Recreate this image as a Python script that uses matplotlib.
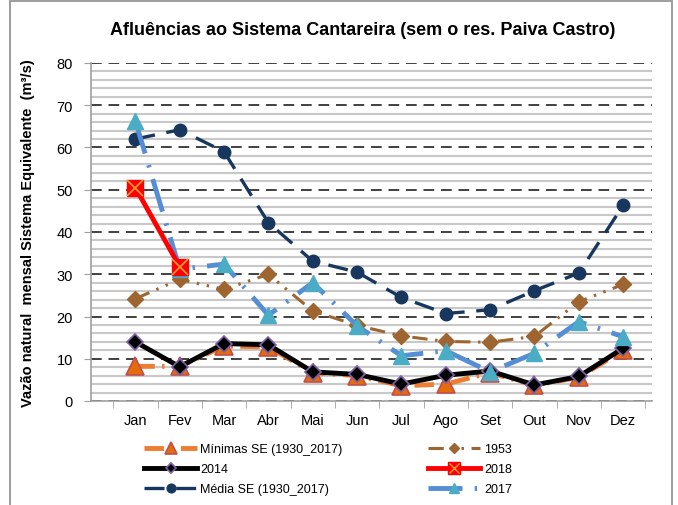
import numpy as np
import matplotlib.pyplot as plt
from matplotlib.ticker import MultipleLocator, FixedLocator
from matplotlib.lines import Line2D
from matplotlib.legend_handler import HandlerTuple
import matplotlib.patches as mpatches

# Data
months = ["Jan", "Fev", "Mar", "Abr", "Mai", "Jun",
          "Jul", "Ago", "Set", "Out", "Nov", "Dez"]

minimas = [8.2, 8.2, 13.0, 12.8, 6.7, 6.0, 3.6, 4.0, 6.7, 3.7, 5.6, 12.0]
y1953   = [24.2, 28.8, 26.4, 30.0, 21.3, 17.9, 15.4, 14.1, 13.9, 15.3, 23.5, 27.6]
y2014   = [14.0, 8.1, 13.6, 13.3, 6.9, 6.3, 4.0, 6.1, 7.1, 3.8, 5.8, 12.5]
y2018   = [50.5, 31.8]
media   = [62.0, 64.2, 59.0, 42.2, 33.1, 30.5, 24.5, 20.7, 21.6, 26.1, 30.3, 46.3]
y2017   = [66.3, 31.2, 32.4, 20.3, 28.0, 17.8, 10.7, 11.9, 6.9, 11.3, 18.8, 15.2]

plt.rcParams['font.family'] = ['Liberation Sans', 'DejaVu Sans']

fig = plt.figure(figsize=(6.78, 5.06), dpi=100)
ax = fig.add_axes([91 / 678, 104 / 506, 561 / 678, 338 / 506])

x = np.arange(len(months))

# Grid: light minor lines every 2, dashed major lines every 10
ax.yaxis.set_major_locator(MultipleLocator(10))
ax.yaxis.set_minor_locator(MultipleLocator(2))
ax.grid(which="minor", axis="y", color="#c8c8c8", linewidth=1.5, linestyle="-")
ax.grid(which="major", axis="y", color="#404040", linewidth=1.4,
        linestyle=(0, (5.5, 3.5)))
ax.set_axisbelow(True)

lw = 3.5
h_min, = ax.plot(x, minimas, color="#ED7D31", linewidth=lw,
                 linestyle=(0, (4, 1.5, 0.5, 1.5)),
                 marker="^", markersize=13, markerfacecolor="#E46C0A",
                 markeredgecolor="#C0504D", markeredgewidth=1.2,
                 label="Mínimas SE (1930_2017)", zorder=3)
h_1953, = ax.plot(x, y1953, color="#9E6530", linewidth=2.2,
                  linestyle=(0, (5, 2.5, 0.8, 2.5, 0.8, 2.5)),
                  marker="D", markersize=8, markerfacecolor="#9E6530",
                  markeredgecolor="#9E6530",
                  label="1953", zorder=3)
h_2014, = ax.plot(x, y2014, color="black", linewidth=lw, linestyle="-",
                  marker="D", markersize=8, markerfacecolor="black",
                  markeredgecolor="#7F5FA8", markeredgewidth=1.2,
                  label="2014", zorder=4)
ax.plot(x[:len(y2018)], y2018, color="#FF0000", linewidth=lw, zorder=5)
ax.plot(x[:len(y2018)], y2018, linestyle="none", marker="s", markersize=12,
        markerfacecolor="#FF0000", markeredgecolor="#FF0000", zorder=5)
ax.plot(x[:len(y2018)], y2018, linestyle="none", marker="x", markersize=11,
        markeredgecolor="#F0A030", markeredgewidth=1.2, zorder=6)
h_media, = ax.plot(x, media, color="#17375E", linewidth=2.4,
                   linestyle=(0, (6, 3.5)),
                   marker="o", markersize=9, markerfacecolor="#17375E",
                   markeredgecolor="#17375E",
                   label="Média SE (1930_2017)", zorder=3)
h_2017, = ax.plot(x, y2017, color="#558ED5", linewidth=lw,
                  linestyle=(0, (7, 2.5, 0.5, 2.5)),
                  marker="^", markersize=11, markerfacecolor="#4BACC6",
                  markeredgecolor="#4BACC6",
                  label="2017", zorder=4)

# 2018 legend handle: red line with square and x
leg_2018 = (Line2D([], [], color="#FF0000", linewidth=lw, marker="s",
                   markersize=12, markerfacecolor="#FF0000",
                   markeredgecolor="#FF0000"),
            Line2D([], [], linestyle="none", marker="x", markersize=11,
                   markeredgecolor="#F0A030"))

ax.set_xlim(-1.0, 11.65)
ax.set_ylim(0, 80)
ax.set_xticks(x)
ax.set_xticklabels(months, fontsize=10.5)
ax.xaxis.set_minor_locator(FixedLocator(np.arange(-0.5, 12, 1)))
ax.tick_params(axis="x", which="major", length=0, pad=9)
ax.tick_params(axis="x", which="minor", length=5, color="#a0a0a0")
ax.tick_params(axis="y", which="major", length=5, color="#a0a0a0",
               labelsize=10.5, pad=8)
ax.tick_params(axis="y", which="minor", length=0)

for s in ["top", "right"]:
    ax.spines[s].set_visible(False)
for s in ["left", "bottom"]:
    ax.spines[s].set_color("#a0a0a0")
    ax.spines[s].set_linewidth(1.2)

ax.set_ylabel("Vazão natural  mensal Sistema Equivalente  (m³/s)",
              fontsize=10.5, fontweight="bold", labelpad=10)
ax.yaxis.set_label_coords(-0.1, 0.5)

fig.text(0.535, 0.94, "Afluências ao Sistema Cantareira (sem o res. Paiva Castro)",
         ha="center", va="center", fontsize=13, fontweight="bold")

handles = [h_min, h_2014, h_media, h_1953, leg_2018, h_2017]
labels = ["Mínimas SE (1930_2017)", "2014", "Média SE (1930_2017)",
          "1953", "2018", "2017"]
leg = fig.legend(handles, labels, ncol=2, loc="upper left",
                 bbox_to_anchor=(133 / 678, 1 - 433 / 506),
                 frameon=False, fontsize=9, handlelength=4.2,
                 columnspacing=6.8, labelspacing=0.65,
                 handletextpad=0.3, markerscale=0.7,
                 handler_map={tuple: HandlerTuple(ndivide=1)})

# chart-area border
fig.patches.append(mpatches.Rectangle((10 / 678, -0.01), 662 / 678, 1.0 - 2 / 506 + 0.01,
                                      transform=fig.transFigure, fill=False,
                                      edgecolor="#8c8c8c", linewidth=1.2))

fig.savefig("out.png", dpi=100)
